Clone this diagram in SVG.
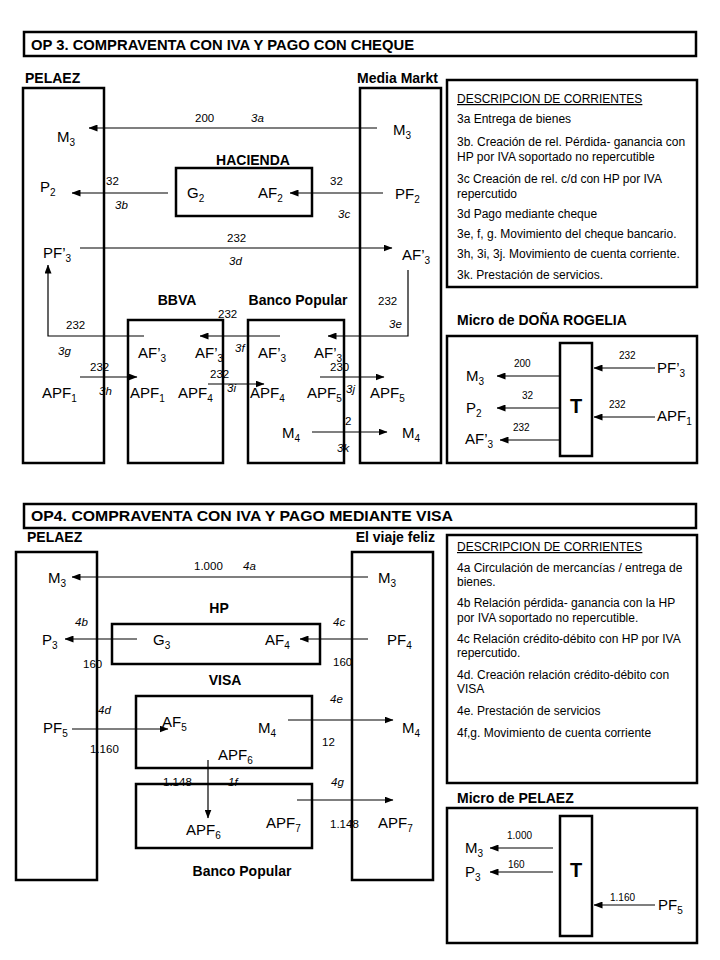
<svg xmlns="http://www.w3.org/2000/svg" width="720" height="960" viewBox="0 0 720 960">
<style>
text{font-family:"Liberation Sans",Arial,sans-serif;fill:#000}
.box{fill:none;stroke:#000;stroke-width:2.5}
.ln{fill:none;stroke:#000;stroke-width:1.2}
.L{font-size:15px}
.s{font-size:10px}
.n{font-size:11.5px}
.i{font-size:11.5px;font-style:italic}
.h{font-size:14px;font-weight:bold}
.t{font-size:15px;font-weight:bold}
.d{font-size:12px}
.m{font-size:10px}
.T{font-size:20px;font-weight:bold}
</style>
<defs>
<marker id="ah" markerWidth="9" markerHeight="7" refX="8.5" refY="3.5" orient="auto" markerUnits="userSpaceOnUse">
<path d="M0,0 L9,3.5 L0,7 z" fill="#000"/>
</marker>
</defs>
<rect width="720" height="960" fill="#fff"/>

<!-- ===== OP3 ===== -->
<g id="title3">
<rect class="box" x="24" y="32" width="672" height="24"/>
<text class="t" x="31" y="50" textLength="383" lengthAdjust="spacingAndGlyphs">OP 3. COMPRAVENTA CON IVA Y PAGO CON CHEQUE</text>
</g>

<g id="pelaez3">
<text class="h" x="25" y="83">PELAEZ</text>
<rect class="box" x="23" y="88" width="81" height="375"/>
<text class="L" x="57" y="142">M<tspan class="s" dy="4">3</tspan></text>
<text class="L" x="40" y="192">P<tspan class="s" dy="4">2</tspan></text>
<text class="L" x="43" y="258">PF’<tspan class="s" dy="4">3</tspan></text>
<text class="L" x="42" y="398">APF<tspan class="s" dy="4">1</tspan></text>
</g>

<g id="mediamarkt">
<text class="h" x="438" y="83" text-anchor="end">Media Markt</text>
<rect class="box" x="360" y="88" width="81" height="375"/>
<text class="L" x="393" y="135">M<tspan class="s" dy="4">3</tspan></text>
<text class="L" x="395" y="199">PF<tspan class="s" dy="4">2</tspan></text>
<text class="L" x="402" y="260">AF’<tspan class="s" dy="4">3</tspan></text>
<text class="L" x="370" y="398">APF<tspan class="s" dy="4">5</tspan></text>
<text class="L" x="402" y="438">M<tspan class="s" dy="4">4</tspan></text>
</g>

<g id="hacienda">
<text class="h" x="253" y="165" text-anchor="middle">HACIENDA</text>
<rect class="box" x="176" y="168" width="136" height="48"/>
<text class="L" x="187" y="198">G<tspan class="s" dy="4">2</tspan></text>
<text class="L" x="258" y="198">AF<tspan class="s" dy="4">2</tspan></text>
</g>

<g id="bbva">
<text class="h" x="177" y="305" text-anchor="middle">BBVA</text>
<rect class="box" x="128" y="320" width="95" height="143"/>
<text class="L" x="138" y="358">AF’<tspan class="s" dy="4">3</tspan></text>
<text class="L" x="195" y="358">AF’<tspan class="s" dy="4">3</tspan></text>
<text class="L" x="130" y="398">APF<tspan class="s" dy="4">1</tspan></text>
<text class="L" x="178" y="398">APF<tspan class="s" dy="4">4</tspan></text>
</g>

<g id="bancopopular3">
<text class="h" x="298" y="305" text-anchor="middle">Banco Popular</text>
<rect class="box" x="248" y="320" width="96" height="143"/>
<text class="L" x="258" y="358">AF’<tspan class="s" dy="4">3</tspan></text>
<text class="L" x="314" y="358">AF’<tspan class="s" dy="4">3</tspan></text>
<text class="L" x="250" y="398">APF<tspan class="s" dy="4">4</tspan></text>
<text class="L" x="307" y="398">APF<tspan class="s" dy="4">5</tspan></text>
<text class="L" x="282" y="438">M<tspan class="s" dy="4">4</tspan></text>
</g>

<g id="desc3">
<rect class="box" x="447" y="80" width="250" height="207"/>
<text class="d" x="457" y="103" text-decoration="underline">DESCRIPCION DE CORRIENTES</text>
<text class="d" x="457" y="123">3a Entrega de bienes</text>
<text class="d" x="457" y="146">3b. Creación de rel. Pérdida- ganancia con</text>
<text class="d" x="457" y="161">HP por IVA soportado no repercutible</text>
<text class="d" x="457" y="183">3c Creación de rel. c/d con HP por IVA</text>
<text class="d" x="457" y="198">repercutido</text>
<text class="d" x="457" y="218">3d Pago mediante cheque</text>
<text class="d" x="457" y="238">3e, f, g. Movimiento del cheque bancario.</text>
<text class="d" x="457" y="258">3h, 3i, 3j. Movimiento de cuenta corriente.</text>
<text class="d" x="457" y="279">3k. Prestación de servicios.</text>
</g>

<g id="micro3">
<text class="h" x="457" y="325">Micro de DOÑA ROGELIA</text>
<rect class="box" x="447" y="336" width="250" height="127"/>
<rect class="box" x="560" y="343" width="32" height="113"/>
<text class="T" x="576" y="413" text-anchor="middle">T</text>
<text class="L" x="466" y="381">M<tspan class="s" dy="4">3</tspan></text>
<text class="L" x="466" y="413">P<tspan class="s" dy="4">2</tspan></text>
<text class="L" x="465" y="444">AF’<tspan class="s" dy="4">3</tspan></text>
<text class="L" x="657" y="373">PF’<tspan class="s" dy="4">3</tspan></text>
<text class="L" x="657" y="421">APF<tspan class="s" dy="4">1</tspan></text>
</g>

<!-- ===== OP4 ===== -->
<g id="title4">
<rect class="box" x="24" y="504" width="672" height="24"/>
<text class="t" x="31" y="521" textLength="422" lengthAdjust="spacingAndGlyphs">OP4. COMPRAVENTA CON IVA Y PAGO MEDIANTE VISA</text>
</g>

<g id="pelaez4">
<text class="h" x="27" y="542">PELAEZ</text>
<rect class="box" x="16" y="552" width="81" height="328"/>
<text class="L" x="48" y="583">M<tspan class="s" dy="4">3</tspan></text>
<text class="L" x="42" y="645">P<tspan class="s" dy="4">3</tspan></text>
<text class="L" x="43" y="733">PF<tspan class="s" dy="4">5</tspan></text>
</g>

<g id="viajefeliz">
<text class="h" x="435" y="542" text-anchor="end">El viaje feliz</text>
<rect class="box" x="352" y="552" width="81" height="328"/>
<text class="L" x="378" y="583">M<tspan class="s" dy="4">3</tspan></text>
<text class="L" x="387" y="645">PF<tspan class="s" dy="4">4</tspan></text>
<text class="L" x="402" y="733">M<tspan class="s" dy="4">4</tspan></text>
<text class="L" x="378" y="828">APF<tspan class="s" dy="4">7</tspan></text>
</g>

<g id="hp">
<text class="h" x="219" y="613" text-anchor="middle">HP</text>
<rect class="box" x="112" y="624" width="208" height="40"/>
<text class="L" x="153" y="645">G<tspan class="s" dy="4">3</tspan></text>
<text class="L" x="265" y="645">AF<tspan class="s" dy="4">4</tspan></text>
</g>

<g id="visa">
<text class="h" x="225" y="685" text-anchor="middle">VISA</text>
<rect class="box" x="136" y="696" width="176" height="72"/>
<text class="L" x="162" y="727">AF<tspan class="s" dy="4">5</tspan></text>
<text class="L" x="258" y="733">M<tspan class="s" dy="4">4</tspan></text>
<text class="L" x="218" y="760">APF<tspan class="s" dy="4">6</tspan></text>
</g>

<g id="bancopopular4">
<rect class="box" x="136" y="784" width="176" height="64"/>
<text class="L" x="186" y="835">APF<tspan class="s" dy="4">6</tspan></text>
<text class="L" x="266" y="828">APF<tspan class="s" dy="4">7</tspan></text>
<text class="h" x="242" y="876" text-anchor="middle">Banco Popular</text>
</g>

<g id="desc4">
<rect class="box" x="447" y="535" width="250" height="248"/>
<text class="d" x="457" y="551" text-decoration="underline">DESCRIPCION DE CORRIENTES</text>
<text class="d" x="457" y="572">4a Circulación de mercancías / entrega de</text>
<text class="d" x="457" y="586">bienes.</text>
<text class="d" x="457" y="607">4b Relación pérdida- ganancia con la HP</text>
<text class="d" x="457" y="622">por IVA soportado no repercutible.</text>
<text class="d" x="457" y="643">4c Relación crédito-débito con HP por IVA</text>
<text class="d" x="457" y="657">repercutido.</text>
<text class="d" x="457" y="679">4d. Creación relación crédito-débito con</text>
<text class="d" x="457" y="693">VISA</text>
<text class="d" x="457" y="715">4e. Prestación de servicios</text>
<text class="d" x="457" y="737">4f,g. Movimiento de cuenta corriente</text>
</g>

<g id="micro4">
<text class="h" x="457" y="803">Micro de PELAEZ</text>
<rect class="box" x="447" y="808" width="250" height="135"/>
<rect class="box" x="560" y="816" width="32" height="120"/>
<text class="T" x="576" y="877" text-anchor="middle">T</text>
<text class="L" x="465" y="853">M<tspan class="s" dy="4">3</tspan></text>
<text class="L" x="465" y="877">P<tspan class="s" dy="4">3</tspan></text>
<text class="L" x="658" y="910">PF<tspan class="s" dy="4">5</tspan></text>
</g>

<!-- ===== Connectors ===== -->
<g id="connectors">
<!-- OP3 -->
<line class="ln" x1="377" y1="128" x2="89" y2="128" marker-end="url(#ah)"/>
<line class="ln" x1="168" y1="193" x2="72" y2="193" marker-end="url(#ah)"/>
<line class="ln" x1="383" y1="193" x2="290" y2="193" marker-end="url(#ah)"/>
<line class="ln" x1="80" y1="248" x2="392" y2="248" marker-end="url(#ah)"/>
<polyline class="ln" points="144,336 48,336 48,265" marker-end="url(#ah)"/>
<polyline class="ln" points="408,270 408,336 328,336" marker-end="url(#ah)"/>
<line class="ln" x1="280" y1="336" x2="200" y2="336" marker-end="url(#ah)"/>
<line class="ln" x1="80" y1="377" x2="137" y2="377" marker-end="url(#ah)"/>
<line class="ln" x1="208" y1="384" x2="264" y2="384" marker-end="url(#ah)"/>
<line class="ln" x1="320" y1="377" x2="384" y2="377" marker-end="url(#ah)"/>
<line class="ln" x1="312" y1="432" x2="387" y2="432" marker-end="url(#ah)"/>
<!-- micro3 -->
<line class="ln" x1="560" y1="376" x2="497" y2="376" marker-end="url(#ah)"/>
<line class="ln" x1="560" y1="408" x2="497" y2="408" marker-end="url(#ah)"/>
<line class="ln" x1="560" y1="440" x2="500" y2="440" marker-end="url(#ah)"/>
<line class="ln" x1="655" y1="368" x2="594" y2="368" marker-end="url(#ah)"/>
<line class="ln" x1="655" y1="417" x2="594" y2="417" marker-end="url(#ah)"/>
<!-- OP4 -->
<line class="ln" x1="368" y1="577" x2="72" y2="577" marker-end="url(#ah)"/>
<line class="ln" x1="137" y1="639" x2="65" y2="639" marker-end="url(#ah)"/>
<line class="ln" x1="368" y1="639" x2="300" y2="639" marker-end="url(#ah)"/>
<line class="ln" x1="72" y1="729" x2="168" y2="729" marker-end="url(#ah)"/>
<line class="ln" x1="288" y1="720" x2="393" y2="720" marker-end="url(#ah)"/>
<line class="ln" x1="208" y1="760" x2="208" y2="818" marker-end="url(#ah)"/>
<line class="ln" x1="297" y1="800" x2="393" y2="800" marker-end="url(#ah)"/>
<!-- micro4 -->
<line class="ln" x1="553" y1="848" x2="490" y2="848" marker-end="url(#ah)"/>
<line class="ln" x1="553" y1="872" x2="490" y2="872" marker-end="url(#ah)"/>
<line class="ln" x1="655" y1="905" x2="594" y2="905" marker-end="url(#ah)"/>
</g>

<g id="connector-labels">
<text class="n" x="195" y="122">200</text>
<text class="i" x="251" y="122">3a</text>
<text class="n" x="106" y="185">32</text>
<text class="i" x="115" y="209">3b</text>
<text class="n" x="330" y="185">32</text>
<text class="i" x="338" y="218">3c</text>
<text class="n" x="227" y="242">232</text>
<text class="i" x="229" y="265">3d</text>
<text class="n" x="66" y="329">232</text>
<text class="i" x="58" y="355">3g</text>
<text class="n" x="378" y="305">232</text>
<text class="i" x="389" y="328">3e</text>
<text class="n" x="218" y="318">232</text>
<text class="i" x="235" y="352">3f</text>
<text class="n" x="90" y="371">232</text>
<text class="i" x="99" y="395">3h</text>
<text class="n" x="210" y="378">232</text>
<text class="i" x="227" y="392">3i</text>
<text class="n" x="330" y="371">230</text>
<text class="i" x="346" y="393">3j</text>
<text class="n" x="345" y="425">2</text>
<text class="i" x="337" y="452">3k</text>
<text class="m" x="514" y="367">200</text>
<text class="m" x="522" y="399">32</text>
<text class="m" x="513" y="431">232</text>
<text class="m" x="619" y="359">232</text>
<text class="m" x="609" y="408">232</text>

<text class="n" x="194" y="570">1.000</text>
<text class="i" x="243" y="570">4a</text>
<text class="i" x="75" y="626">4b</text>
<text class="n" x="83" y="668">160</text>
<text class="i" x="333" y="626">4c</text>
<text class="n" x="333" y="666">160</text>
<text class="i" x="98" y="714">4d</text>
<text class="n" x="90" y="753">1.160</text>
<text class="i" x="330" y="703">4e</text>
<text class="n" x="322" y="746">12</text>
<text class="n" x="163" y="786">1.148</text>
<text class="i" x="228" y="786">1f</text>
<text class="i" x="331" y="786">4g</text>
<text class="n" x="330" y="828">1.148</text>
<text class="m" x="507" y="839">1.000</text>
<text class="m" x="508" y="868">160</text>
<text class="m" x="610" y="901">1.160</text>
</g>
</svg>
